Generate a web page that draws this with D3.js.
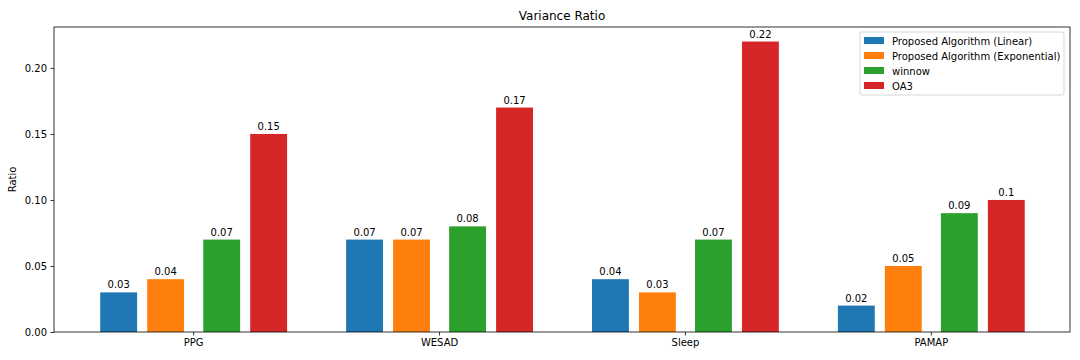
<!DOCTYPE html>
<html lang="en">
<meta charset="UTF-8">
<title>Variance Ratio</title>
<script src="https://d3js.org/d3.v7.min.js"></script>
<style>
  body { margin: 0; background: #fff; }
  text { font-family: "DejaVu Sans", sans-serif; fill: #000; }
</style>
<body>
<div id="chart"></div>
<script>
// data
var datasets = ["PPG", "WESAD", "Sleep", "PAMAP"];
var seriesNames = ["Proposed Algorithm (Linear)", "Proposed Algorithm (Exponential)", "winnow", "OA3"];
var linear = [0.03, 0.07, 0.04, 0.02];
var exponential = [0.04, 0.07, 0.03, 0.05];
var winnow = [0.07, 0.08, 0.07, 0.09];
var oa3 = [0.15, 0.17, 0.22, 0.10];
var yTicks = [0.00, 0.05, 0.10, 0.15, 0.20];

var allSeries = [linear, exponential, winnow, oa3];
var colors = ["#1f77b4", "#ff7f0e", "#2ca02c", "#d62728"];
var offsets = [-0.303, -0.112, 0.116, 0.307];
var barWidth = 0.15;

var W = 1080, H = 360;
var margin = {top: 27, right: 10, bottom: 28, left: 54};
var width = W - margin.left - margin.right,
    height = H - margin.top - margin.bottom;

var svg = d3.select("#chart").append("svg")
    .attr("width", W).attr("height", H)
  .append("g")
    .attr("transform", "translate(" + margin.left + "," + margin.top + ")");

var x = d3.scaleLinear().domain([-0.566, 3.566]).range([0, width]);
var y = d3.scaleLinear().domain([0, 0.231]).range([height, 0]);

// bars + value labels
allSeries.forEach(function(vals, s) {
  var g = svg.append("g");
  g.selectAll("rect").data(vals).enter().append("rect")
    .attr("x", function(d, i) { return x(i + offsets[s] - barWidth / 2); })
    .attr("width", x(barWidth) - x(0))
    .attr("y", function(d) { return y(d); })
    .attr("height", function(d) { return height - y(d); })
    .attr("fill", colors[s]);
  g.selectAll("text").data(vals).enter().append("text")
    .attr("x", function(d, i) { return x(i + offsets[s]); })
    .attr("y", function(d) { return y(d) - 4; })
    .attr("text-anchor", "middle")
    .style("font-size", "10px")
    .text(function(d) { return String(d); });
});

// axes
var xAxis = svg.append("g")
  .attr("transform", "translate(0," + height + ")")
  .call(d3.axisBottom(x).tickValues(d3.range(datasets.length))
    .tickFormat(function(i) { return datasets[i]; }).tickSize(3.5).tickPadding(3.5));
var yAxis = svg.append("g")
  .call(d3.axisLeft(y).tickValues(yTicks).tickFormat(d3.format(".2f")).tickSize(3.5).tickPadding(3.5));
[xAxis, yAxis].forEach(function(a) {
  a.select(".domain").remove();
  a.selectAll("text").style("font-size", "10px").attr("fill", "#000");
  a.selectAll("line").attr("stroke", "#000").attr("stroke-width", 0.8);
});

// frame
svg.append("rect")
  .attr("width", width).attr("height", height)
  .attr("fill", "none").attr("stroke", "#000").attr("stroke-width", 0.8);

// title and label
svg.append("text")
  .attr("x", width / 2).attr("y", -7)
  .attr("text-anchor", "middle")
  .style("font-size", "12px")
  .text("Variance Ratio");
svg.append("text")
  .attr("transform", "rotate(-90)")
  .attr("x", -height / 2).attr("y", -38)
  .attr("text-anchor", "middle")
  .style("font-size", "10px")
  .text("Ratio");

// legend
var legend = svg.append("g").attr("transform", "translate(" + (width - 210) + ",5)");
legend.append("rect")
  .attr("width", 204).attr("height", 63).attr("rx", 2)
  .attr("fill", "#fff").attr("fill-opacity", 0.8)
  .attr("stroke", "#ccc").attr("stroke-width", 0.8);
seriesNames.forEach(function(name, i) {
  var row = legend.append("g").attr("transform", "translate(4," + (5 + i * 15) + ")");
  row.append("rect").attr("width", 20).attr("height", 7).attr("fill", colors[i]);
  row.append("text").attr("x", 28).attr("y", 7.5).style("font-size", "10px").text(name);
});
</script>
</body>
</html>
